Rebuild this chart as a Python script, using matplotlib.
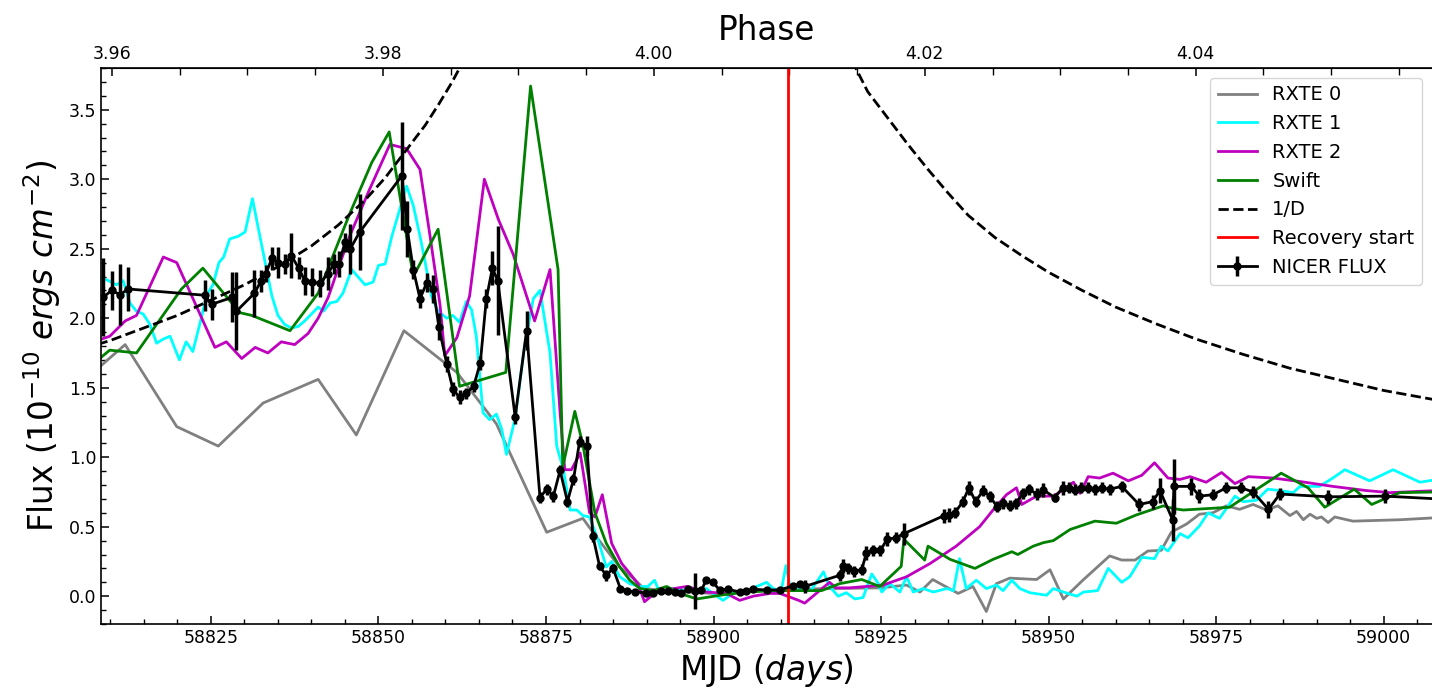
import matplotlib
matplotlib.use("Agg")
import matplotlib.pyplot as plt
from matplotlib.ticker import FixedLocator, MultipleLocator

# RXTE 0 light curve (MJD, flux in 1e-10 erg/cm^2/s)
rxte0_mjd = [58808.4, 58812.2, 58819.9, 58826.1, 58832.8, 58841.0, 58846.7, 58853.8,
             58861.7, 58867.6, 58875.1, 58880.5, 58882.3, 58886.0, 58888.0, 58889.5,
             58892.0, 58896.0, 58900.0, 58904.0, 58908.0, 58912.0, 58917.3, 58924.8,
             58928.8, 58930.8, 58932.7, 58936.5, 58938.7, 58940.7, 58942.2, 58944.2,
             58948.2, 58950.2, 58952.2, 58955.1, 58959.1, 58960.9, 58962.9, 58964.8,
             58966.8, 58968.3, 58970.6, 58972.5, 58974.5, 58976.5, 58978.5, 58980.5,
             58982.5, 58984.2, 58986.0, 58987.0, 58988.0, 58989.0, 58990.0, 58990.7,
             58991.7, 58992.7, 58995.4, 59002.4, 59008.0]
rxte0_flux = [1.65, 1.81, 1.22, 1.08, 1.39, 1.56, 1.16, 1.91,
              1.61, 1.24, 0.46, 0.56, 0.44, 0.21, 0.13, 0.06,
              0.04, 0.03, 0.02, 0.03, 0.04, 0.05, 0.055, 0.06,
              0.08, 0.03, 0.12, 0.02, 0.07, -0.11, 0.09, 0.13,
              0.12, 0.19, -0.02, 0.115, 0.29, 0.26, 0.26, 0.325,
              0.33, 0.46, 0.52, 0.59, 0.60, 0.65, 0.625, 0.66,
              0.62, 0.65, 0.58, 0.61, 0.55, 0.59, 0.56, 0.57,
              0.53, 0.57, 0.54, 0.55, 0.565]

# RXTE 1
rxte1_mjd = [58808.4, 58809.7, 58810.9, 58811.9, 58812.9, 58813.9, 58814.9, 58815.9,
             58816.9, 58817.9, 58818.9, 58819.4, 58820.3, 58821.3, 58822.3, 58823.4,
             58824.4, 58825.3, 58826.2, 58826.9, 58827.8, 58829.1, 58830.1, 58831.2,
             58832.1, 58833.1, 58834.1, 58835.0, 58836.0, 58837.0, 58838.0, 58839.0,
             58840.0, 58841.0, 58841.8, 58842.8, 58843.8, 58844.7, 58846.0, 58848.0,
             58849.2, 58850.0, 58851.0, 58852.0, 58853.2, 58854.2, 58855.2, 58856.2,
             58856.9, 58857.9, 58858.9, 58860.2, 58861.1, 58862.1, 58863.1, 58863.9,
             58864.6, 58865.6, 58866.6, 58867.6, 58868.4, 58869.1, 58870.4, 58871.8,
             58873.1, 58874.1, 58875.6, 58876.6, 58877.6, 58878.6, 58879.6, 58880.5,
             58881.5, 58882.8, 58884.0, 58884.8, 58886.0, 58887.5, 58889.0, 58890.2,
             58891.2, 58892.0, 58894.0, 58896.0, 58898.9, 58901.4, 58902.9, 58905.0,
             58907.9, 58908.9, 58910.1, 58910.8, 58911.5, 58913.0, 58914.5, 58916.4,
             58917.3, 58918.6, 58919.8, 58921.1, 58922.3, 58923.6, 58924.6, 58925.1,
             58926.3, 58927.8, 58928.8, 58929.8, 58931.3, 58932.8, 58934.8, 58935.8,
             58936.7, 58937.7, 58939.2, 58940.7, 58942.2, 58943.2, 58944.5, 58945.7,
             58947.2, 58949.7, 58950.7, 58952.2, 58954.2, 58955.2, 58957.3, 58958.9,
             58960.9, 58962.1, 58963.9, 58965.8, 58966.8, 58967.8, 58969.6, 58970.8,
             58972.5, 58973.8, 58975.5, 58977.8, 58979.0, 58981.0, 58982.7, 58984.5,
             58986.5, 58987.5, 58988.5, 58990.4, 58992.4, 58994.2, 58997.9, 59001.4,
             59005.4, 59008.0]
rxte1_flux = [2.30, 2.27, 2.24, 2.27, 2.11, 2.05, 2.03, 1.955,
              1.82, 1.85, 1.87, 1.81, 1.70, 1.83, 1.76, 1.97,
              2.17, 2.24, 2.40, 2.44, 2.57, 2.59, 2.62, 2.86,
              2.64, 2.40, 2.16, 2.02, 1.955, 1.93, 1.94, 1.98,
              2.03, 2.08, 2.05, 2.11, 2.12, 2.18, 2.35, 2.24,
              2.26, 2.38, 2.39, 2.59, 2.785, 2.95, 2.81, 2.59,
              2.42, 2.16, 2.05, 2.00, 2.02, 1.97, 2.12, 2.06,
              1.87, 1.32, 1.27, 1.31, 1.20, 1.02, 1.28, 1.80,
              2.14, 2.20, 1.75, 1.08, 0.91, 0.62, 0.62, 0.58,
              0.57, 0.40, 0.21, 0.25, 0.14, 0.09, 0.07, 0.07,
              0.115, 0.02, 0.055, 0.04, 0.055, -0.03, 0.02, 0.04,
              0.10, 0.055, 0.04, 0.22, 0.05, 0.06, 0.04, 0.175,
              0.07, 0.0, 0.025, -0.02, -0.01, 0.16, 0.09, 0.03,
              0.09, 0.03, 0.14, 0.03, 0.055, 0.03, 0.055, 0.04,
              0.27, 0.055, 0.115, 0.055, 0.08, 0.04, 0.115, 0.055,
              0.025, 0.007, 0.055, 0.03, 0.0, 0.03, 0.04, 0.20,
              0.10, 0.14, 0.28, 0.27, 0.36, 0.325, 0.45, 0.42,
              0.505, 0.60, 0.56, 0.72, 0.68, 0.69, 0.77, 0.76,
              0.745, 0.79, 0.79, 0.79, 0.85, 0.91, 0.83, 0.91,
              0.82, 0.84]

# RXTE 2
rxte2_mjd = [58808.7, 58809.9, 58812.2, 58813.9, 58817.9, 58819.9, 58825.6, 58827.3,
             58829.6, 58831.6, 58833.5, 58835.5, 58837.5, 58839.5, 58841.0, 58842.5,
             58844.0, 58845.7, 58848.7, 58851.7, 58854.2, 58856.2, 58857.7, 58859.2,
             58859.9, 58861.7, 58863.6, 58865.8, 58867.9, 58870.1, 58873.3, 58875.6,
             58877.1, 58877.8, 58878.8, 58880.1, 58881.5, 58882.3, 58883.4, 58884.8,
             58886.3, 58887.5, 58888.7, 58889.7, 58891.2, 58893.5, 58896.0, 58898.9,
             58901.9, 58903.9, 58905.9, 58908.4, 58909.9, 58912.7, 58913.6, 58917.3,
             58918.3, 58920.3, 58925.3, 58928.8, 58932.3, 58936.2, 58939.7, 58941.7,
             58943.7, 58945.2, 58946.0, 58948.2, 58950.7, 58952.2, 58953.7, 58954.7,
             58955.9, 58957.6, 58959.6, 58961.9, 58963.9, 58965.8, 58967.8, 58969.6,
             58971.1, 58973.5, 58975.8, 58977.8, 58979.8, 58983.5, 58987.5, 58992.4,
             58997.4, 59000.9, 59008.0]
rxte2_flux = [1.85, 1.87, 1.98, 2.02, 2.44, 2.40, 1.79, 1.83,
              1.71, 1.79, 1.75, 1.83, 1.81, 1.89, 2.00, 2.15,
              2.36, 2.59, 2.93, 3.25, 3.22, 3.07, 2.59, 2.09,
              1.73, 1.86, 2.16, 3.00, 2.71, 2.46, 1.98, 2.35,
              1.32, 0.91, 0.91, 1.03, 0.60, 0.57, 0.73, 0.38,
              0.235, 0.165, 0.09, -0.04, 0.02, 0.05, 0.07, 0.03,
              0.02, -0.03, 0.0, 0.02, 0.02, -0.03, -0.05, 0.10,
              0.06, 0.06, 0.08, 0.14, 0.235, 0.36, 0.50, 0.62,
              0.73, 0.78, 0.66, 0.72, 0.72, 0.765, 0.82, 0.74,
              0.86, 0.85, 0.885, 0.83, 0.87, 0.96, 0.85, 0.84,
              0.86, 0.82, 0.89, 0.81, 0.86, 0.85, 0.825, 0.79,
              0.76, 0.745, 0.76]

# Swift
swift_mjd = [58808.4, 58809.9, 58813.9, 58820.6, 58823.8, 58829.3, 58831.1, 58836.8,
             58841.0, 58845.7, 58849.0, 58851.6, 58855.2, 58858.9, 58862.1, 58869.0,
             58872.7, 58876.8, 58877.5, 58879.3, 58880.5, 58882.3, 58884.0, 58886.0,
             58887.5, 58889.0, 58891.0, 58893.0, 58895.0, 58897.5, 58901.0, 58904.9,
             58908.9, 58912.7, 58916.1, 58918.8, 58922.1, 58924.8, 58928.0, 58928.4,
             58931.5, 58932.0, 58935.3, 58939.0, 58941.7, 58943.5, 58944.5, 58945.4,
             58947.7, 58949.2, 58950.7, 58953.2, 58956.9, 58960.1, 58963.1, 58967.1,
             58968.6, 58970.1, 58977.0, 58984.7, 58988.7, 58991.2, 58995.6, 58998.2,
             59000.6, 59002.4, 59008.0]
swift_flux = [1.71, 1.77, 1.75, 2.21, 2.36, 2.04, 2.02, 1.91,
              2.18, 2.75, 3.12, 3.34, 2.30, 2.64, 1.51, 1.61,
              3.67, 2.35, 0.93, 1.33, 1.09, 0.60, 0.38, 0.21,
              0.115, 0.055, 0.04, 0.07, 0.02, -0.02, 0.007, 0.03,
              0.04, 0.04, 0.04, 0.09, 0.12, 0.07, 0.215, 0.41,
              0.26, 0.36, 0.265, 0.20, 0.265, 0.30, 0.32, 0.30,
              0.36, 0.385, 0.40, 0.48, 0.54, 0.525, 0.585, 0.65,
              0.63, 0.62, 0.64, 0.885, 0.78, 0.64, 0.77, 0.66,
              0.71, 0.745, 0.75]

# 1/D model curve (two branches around periastron)
inv_d_pre_mjd = [58806, 58810, 58815, 58820, 58825, 58830, 58835, 58840,
                 58844, 58848, 58851, 58854, 58857, 58859, 58861, 58863, 58865]
inv_d_pre = [1.78, 1.84, 1.93, 2.02, 2.13, 2.24, 2.37, 2.52,
             2.67, 2.85, 3.01, 3.20, 3.39, 3.54, 3.70, 3.88, 4.08]
inv_d_post_mjd = [58919, 58921, 58923, 58926, 58929, 58932, 58935, 58938, 58942, 58946,
                  58950, 58955, 58960, 58966, 58972, 58979, 58986, 58993, 59000, 59008]
inv_d_post = [4.05, 3.82, 3.63, 3.44, 3.25, 3.07, 2.90, 2.74, 2.58, 2.45,
              2.33, 2.20, 2.08, 1.96, 1.85, 1.74, 1.64, 1.56, 1.48, 1.41]

recovery_start_mjd = 58911.1

# NICER flux with 1-sigma errors
nicer_mjd = [58808.9, 58810.2, 58811.4, 58812.7, 58824.1, 58825.1, 58828.2, 58828.8,
             58831.5, 58832.5, 58833.2, 58834.1, 58835.0, 58836.0, 58837.0, 58838.1,
             58839.0, 58840.1, 58841.3, 58842.4, 58843.4, 58844.1, 58845.0, 58845.8,
             58847.2, 58853.5, 58854.3, 58855.2, 58856.2, 58857.2, 58858.2, 58859.0,
             58860.2, 58861.1, 58862.1, 58863.1, 58864.2, 58865.2, 58866.1, 58867.0,
             58867.8, 58870.4, 58872.1, 58874.1, 58875.1, 58876.1, 58877.1, 58878.2,
             58879.1, 58880.0, 58881.1, 58882.0, 58883.0, 58884.0, 58885.0, 58886.1,
             58887.1, 58888.3, 58889.9, 58891.0, 58892.1, 58893.2, 58894.2, 58895.2,
             58896.2, 58897.2, 58898.2, 58898.9, 58899.9, 58900.9, 58902.2, 58903.9,
             58904.9, 58905.9, 58907.9, 58909.9, 58911.9, 58912.9, 58913.6, 58918.8,
             58919.3, 58920.1, 58920.9, 58922.1, 58922.8, 58923.8, 58924.9, 58925.9,
             58927.2, 58928.4, 58934.4, 58935.2, 58936.0, 58937.2, 58938.1, 58939.1,
             58940.2, 58941.2, 58942.3, 58943.2, 58944.2, 58945.1, 58946.2, 58947.1,
             58948.2, 58949.2, 58950.9, 58952.1, 58953.0, 58953.9, 58954.9, 58955.9,
             58956.9, 58957.9, 58959.1, 58960.9, 58963.5, 58965.5, 58966.6, 58968.5,
             58968.7, 58971.3, 58972.5, 58974.5, 58976.5, 58978.7, 58980.5, 58982.8,
             58984.5, 58991.7, 59000.2, 59012.0]
nicer_flux = [2.15, 2.20, 2.17, 2.21, 2.165, 2.10, 2.15, 2.05,
              2.18, 2.27, 2.32, 2.43, 2.40, 2.39, 2.45, 2.36,
              2.27, 2.26, 2.25, 2.32, 2.39, 2.39, 2.545, 2.50,
              2.62, 3.025, 2.64, 2.35, 2.14, 2.255, 2.21, 1.94,
              1.67, 1.49, 1.43, 1.46, 1.51, 1.68, 2.14, 2.36,
              2.27, 1.29, 1.91, 0.71, 0.77, 0.72, 0.905, 0.68,
              0.84, 1.11, 1.08, 0.43, 0.215, 0.15, 0.20, 0.055,
              0.04, 0.03, 0.025, 0.025, 0.04, 0.04, 0.03, 0.02,
              0.055, 0.04, 0.045, 0.115, 0.10, 0.045, 0.05, 0.03,
              0.04, 0.05, 0.045, 0.045, 0.075, 0.09, 0.07, 0.15,
              0.215, 0.20, 0.18, 0.19, 0.31, 0.33, 0.33, 0.41,
              0.42, 0.45, 0.58, 0.585, 0.60, 0.68, 0.78, 0.68,
              0.76, 0.72, 0.645, 0.67, 0.65, 0.67, 0.74, 0.77,
              0.735, 0.765, 0.71, 0.78, 0.78, 0.765, 0.78, 0.78,
              0.77, 0.78, 0.77, 0.79, 0.66, 0.68, 0.76, 0.55,
              0.79, 0.79, 0.72, 0.73, 0.78, 0.78, 0.75, 0.625,
              0.735, 0.715, 0.72, 0.69]
nicer_err = [0.28, 0.14, 0.22, 0.16, 0.11, 0.11, 0.18, 0.28,
             0.17, 0.08, 0.06, 0.08, 0.11, 0.07, 0.16, 0.08,
             0.10, 0.10, 0.10, 0.12, 0.07, 0.09, 0.07, 0.18,
             0.27, 0.39, 0.20, 0.07, 0.07, 0.07, 0.10, 0.10,
             0.06, 0.05, 0.05, 0.04, 0.04, 0.05, 0.07, 0.12,
             0.39, 0.05, 0.14, 0.04, 0.04, 0.04, 0.04, 0.04,
             0.04, 0.04, 0.07, 0.04, 0.03, 0.04, 0.03, 0.02,
             0.02, 0.02, 0.02, 0.02, 0.02, 0.02, 0.02, 0.02,
             0.02, 0.13, 0.02, 0.02, 0.02, 0.02, 0.02, 0.02,
             0.02, 0.02, 0.02, 0.02, 0.02, 0.02, 0.05, 0.04,
             0.05, 0.04, 0.04, 0.04, 0.05, 0.04, 0.04, 0.05,
             0.04, 0.08, 0.05, 0.05, 0.04, 0.04, 0.05, 0.04,
             0.04, 0.04, 0.04, 0.04, 0.04, 0.04, 0.04, 0.04,
             0.04, 0.05, 0.03, 0.05, 0.04, 0.04, 0.04, 0.04,
             0.04, 0.04, 0.04, 0.04, 0.05, 0.05, 0.09, 0.15,
             0.20, 0.06, 0.05, 0.04, 0.04, 0.04, 0.04, 0.06,
             0.04, 0.05, 0.05, 0.05]

phase_ticks = [3.96, 3.98, 4.00, 4.02, 4.04]

# orbital phase axis: phase 4.00 at periastron
PHASE_ZERO_MJD = 58891.09
ORBITAL_PERIOD = 2021.5


def mjd_to_phase(mjd):
    return 4.0 + (mjd - PHASE_ZERO_MJD) / ORBITAL_PERIOD


def phase_to_mjd(phase):
    return PHASE_ZERO_MJD + (phase - 4.0) * ORBITAL_PERIOD


fig = plt.figure(figsize=(14.32, 6.96), dpi=100)
ax = fig.add_axes([101 / 1432, 72 / 696, 1331 / 1432, 556 / 696])

ax.plot(rxte0_mjd, rxte0_flux, color="gray", lw=2, label="RXTE 0")
ax.plot(rxte1_mjd, rxte1_flux, color="cyan", lw=2, label="RXTE 1")
ax.plot(rxte2_mjd, rxte2_flux, color="m", lw=2, label="RXTE 2")
ax.plot(swift_mjd, swift_flux, color="g", lw=2, label="Swift")
ax.plot(inv_d_pre_mjd, inv_d_pre, "k--", lw=2, label="1/D")
ax.plot(inv_d_post_mjd, inv_d_post, "k--", lw=2)
ax.axvline(recovery_start_mjd, color="r", lw=2, label="Recovery start")
ax.errorbar(nicer_mjd, nicer_flux, yerr=nicer_err, fmt="o-", color="k",
            lw=2, elinewidth=2.5, ms=5, capsize=0, label="NICER FLUX")

ax.set_xlim(58808.6, 59007.2)
ax.set_ylim(-0.2, 3.8)
ax.spines["right"].set_visible(False)
ax.xaxis.set_major_locator(MultipleLocator(25))
ax.xaxis.set_minor_locator(MultipleLocator(5))
ax.yaxis.set_major_locator(MultipleLocator(0.5))
ax.yaxis.set_minor_locator(MultipleLocator(0.1))
ax.tick_params(which="both", direction="in", labelsize=12.5)
ax.tick_params(which="major", length=6, width=1.1)
ax.tick_params(which="minor", length=3.5, width=1)
for spine in ax.spines.values():
    spine.set_linewidth(1.2)

ax.set_xlabel(r"MJD ($days$)", fontsize=23.5)
ax.set_ylabel(r"Flux ($10^{-10}\ ergs\ cm^{-2}$)", fontsize=23.5)

top = ax.secondary_xaxis("top", functions=(mjd_to_phase, phase_to_mjd))
top.xaxis.set_major_locator(FixedLocator(phase_ticks))
top.xaxis.set_minor_locator(MultipleLocator(0.005))
top.tick_params(which="both", direction="in", labelsize=12.5)
top.tick_params(which="major", length=6, width=1.1)
top.tick_params(which="minor", length=5, width=1)
top.xaxis.set_major_formatter(plt.FuncFormatter(lambda v, _: f"{v:.2f}"))
top.set_xlabel("Phase", fontsize=23.5)

ax.legend(loc="upper right", fontsize=14)

fig.savefig("out.png", dpi=100)
